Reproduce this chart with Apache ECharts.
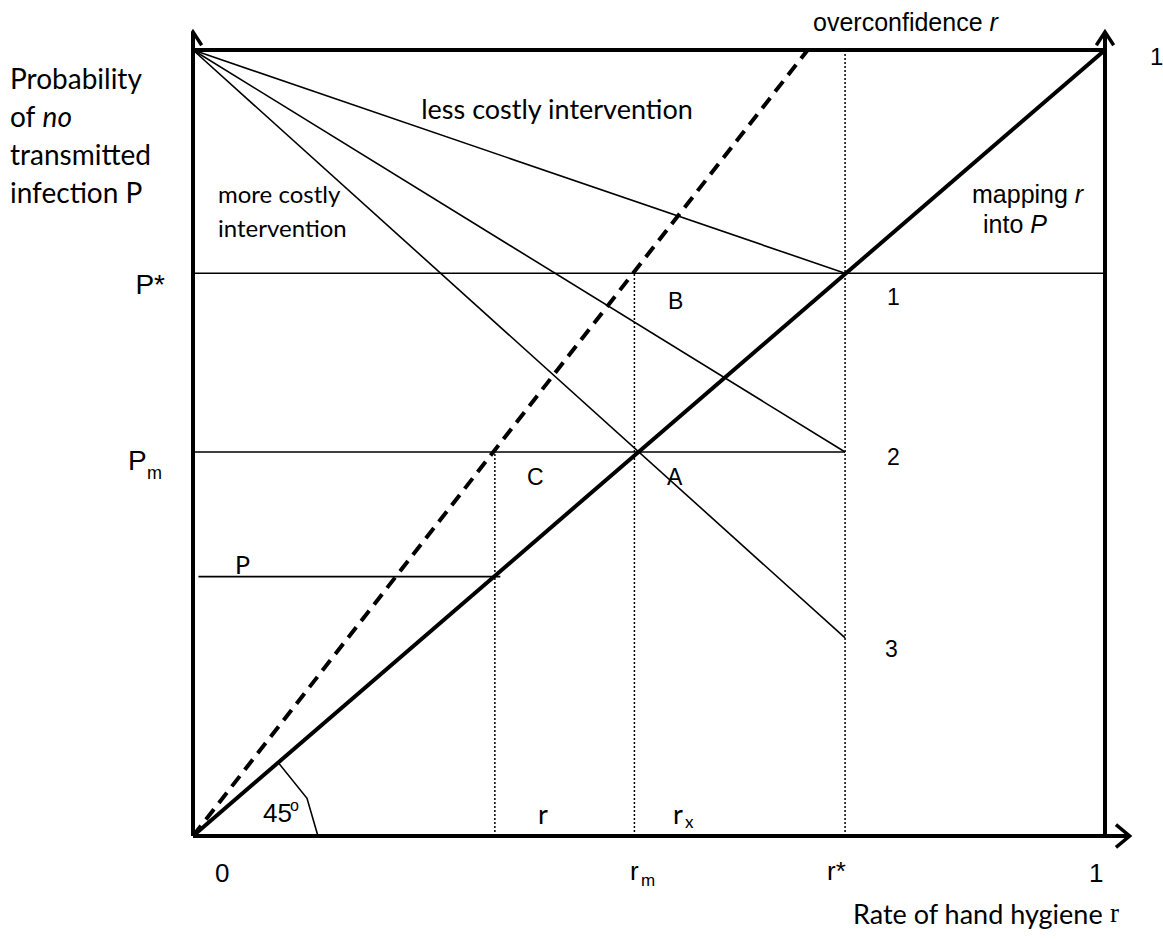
<!DOCTYPE html>
<html><head><meta charset="utf-8">
<script src="https://cdn.jsdelivr.net/npm/echarts@6/dist/echarts.min.js"></script>
<style>html,body{margin:0;padding:0;background:#fff}#c{width:1163px;height:939px}</style>
</head><body><div id="c"></div>
<script>
// ---- key values (data units, 0..1 on both axes) ----
const rStar = 0.715, rM = 0.484, rP = 0.331;       // r*, r_m, r
const pStar = 0.716, pM = 0.4885, pP = 0.33, p3 = 0.252; // P*, P_m, P, end of line 3
const rOver = 0.674;                                // dashed line reaches P=1 here

const mapping      = [[0, 0], [1, 1]];
const overconf     = [[0, 0], [rOver, 1]];
const lessCostly   = [[0, 1], [rStar, pStar]];
const middleLine   = [[0, 1], [rStar, pM]];
const moreCostly   = [[0, 1], [rStar, p3]];
const hPstar       = [[0, pStar], [1, pStar]];
const hPm          = [[0, pM], [rStar, pM]];
const hP           = [[0.006, pP], [0.337, pP]];
const vRstar       = [[rStar, 0], [rStar, 1]];
const vRm          = [[rM, 0], [rM, pStar]];
const vR           = [[rP, 0], [rP, pM]];
const angleMark    = [[0.093, 0.094], [0.125, 0.048], [0.137, 0]];
const frameLeft    = [[0, 0], [0, 1.022]];
const frameTop     = [[0, 1], [1, 1]];
const frameRight   = [[1, 0], [1, 1.022]];
const frameBottom  = [[0, 0], [1.026, 0]];
const arrowUpL     = [[-0.0095, 1.006], [0, 1.023], [0.0095, 1.006]];
const arrowUpR     = [[0.9905, 1.006], [1, 1.023], [1.0095, 1.006]];
const arrowRight   = [[1.012, 0.0145], [1.027, 0], [1.012, -0.0145]];

function seg(data, width, type) {
  return {
    type: 'line', data: data, symbol: 'none', clip: false, silent: true,
    lineStyle: { color: '#000', width: width, type: type || 'solid', cap: 'butt', join: 'miter' },
    z: width > 2 ? 3 : 2
  };
}

const chart = echarts.init(document.getElementById('c'), null, { renderer: 'svg' });
const AR = 'Liberation Sans, Arial, sans-serif';
const CAL = 'Lato, sans-serif';
function txt(x, y, text, size, family, extra) {
  return {
    type: 'text', x: x, y: y, silent: true,
    style: Object.assign({ text: text, fontSize: size, fontFamily: family, fill: '#000',
      textAlign: 'left', textVerticalAlign: 'middle' }, extra || {})
  };
}
function richTxt(x, y, parts, size, family) {
  const rich = {};
  let s = '';
  parts.forEach(function (p, i) {
    rich['p' + i] = { fontSize: size, fontFamily: p[2] || family, fontStyle: p[1] ? 'italic' : 'normal' };
    s += '{p' + i + '|' + p[0] + '}';
  });
  return txt(x, y, s, size, family, { rich: rich });
}

chart.setOption({
  animation: false,
  backgroundColor: '#fff',
  // 0..1 spans 912 px horizontally (x=193..1105) and 786 px vertically (y=836..50)
  grid: { left: 193, right: 12.4, top: 10.7, bottom: 103 },
  xAxis: { type: 'value', min: 0, max: 1.05, show: false },
  yAxis: { type: 'value', min: 0, max: 1.05, show: false },
  series: [
    seg(mapping, 4),
    seg(overconf, 4, [13, 8]),
    seg(lessCostly, 1.6),
    seg(middleLine, 1.6),
    seg(moreCostly, 1.6),
    seg(hPstar, 1.6),
    seg(hPm, 1.6),
    seg(hP, 1.6),
    seg(vRstar, 1.5, [2, 2]),
    seg(vRm, 1.5, [2, 2]),
    seg(vR, 1.5, [2, 2]),
    seg(angleMark, 1.6),
    seg(frameLeft, 4),
    seg(frameTop, 4),
    seg(frameRight, 4),
    seg(frameBottom, 4),
    seg(arrowUpL, 3.5),
    seg(arrowUpR, 3.5),
    seg(arrowRight, 3.5)
  ],
  graphic: [
    txt(10, 78, 'Probability', 28, CAL),
    richTxt(10, 116, [['of ', false], ['no', true]], 28, CAL),
    txt(10, 154, 'transmitted', 28, CAL),
    txt(10, 192, 'infection P', 28, CAL),
    txt(165, 284, 'P*', 28, AR, { textAlign: 'right' }),
    txt(128, 460, 'P', 28, AR),
    txt(147, 473, 'm', 18, AR),
    txt(235, 564, 'P', 25, CAL),
    txt(527, 477, 'C', 23, AR),
    txt(667, 477, 'A', 23, AR),
    txt(668, 301, 'B', 23, AR),
    txt(887, 297, '1', 23, AR),
    txt(887, 457, '2', 23, AR),
    txt(885, 649, '3', 23, AR),
    txt(1150, 56, '1', 24, AR),
    richTxt(813, 22, [['overconfidence ', false], ['r', true]], 25, AR),
    txt(557, 108, 'less costly intervention', 27, CAL, { textAlign: 'center' }),
    txt(218, 193, 'more costly', 24, CAL),
    txt(218, 227, 'intervention', 24, CAL),
    richTxt(972, 194, [['mapping ', false], ['r', true]], 25, AR),
    richTxt(983, 224, [['into ', false], ['P', true]], 25, AR),
    txt(263, 813, '45', 26, AR),
    txt(290, 805, 'o', 16, AR),
    txt(538, 813, 'r', 27, CAL),
    txt(673, 813, 'r', 27, CAL),
    txt(685, 821, 'x', 17, CAL),
    txt(215, 873, '0', 26, AR),
    txt(630, 871, 'r', 26, AR),
    txt(641, 880, 'm', 17, AR),
    txt(827, 871, 'r*', 26, AR),
    txt(1089, 873, '1', 26, AR),
    richTxt(853, 913, [['Rate of hand hygiene ', false], ['r', false, 'Liberation Serif, serif']], 27, CAL)
  ]
});
</script>
</body></html>
